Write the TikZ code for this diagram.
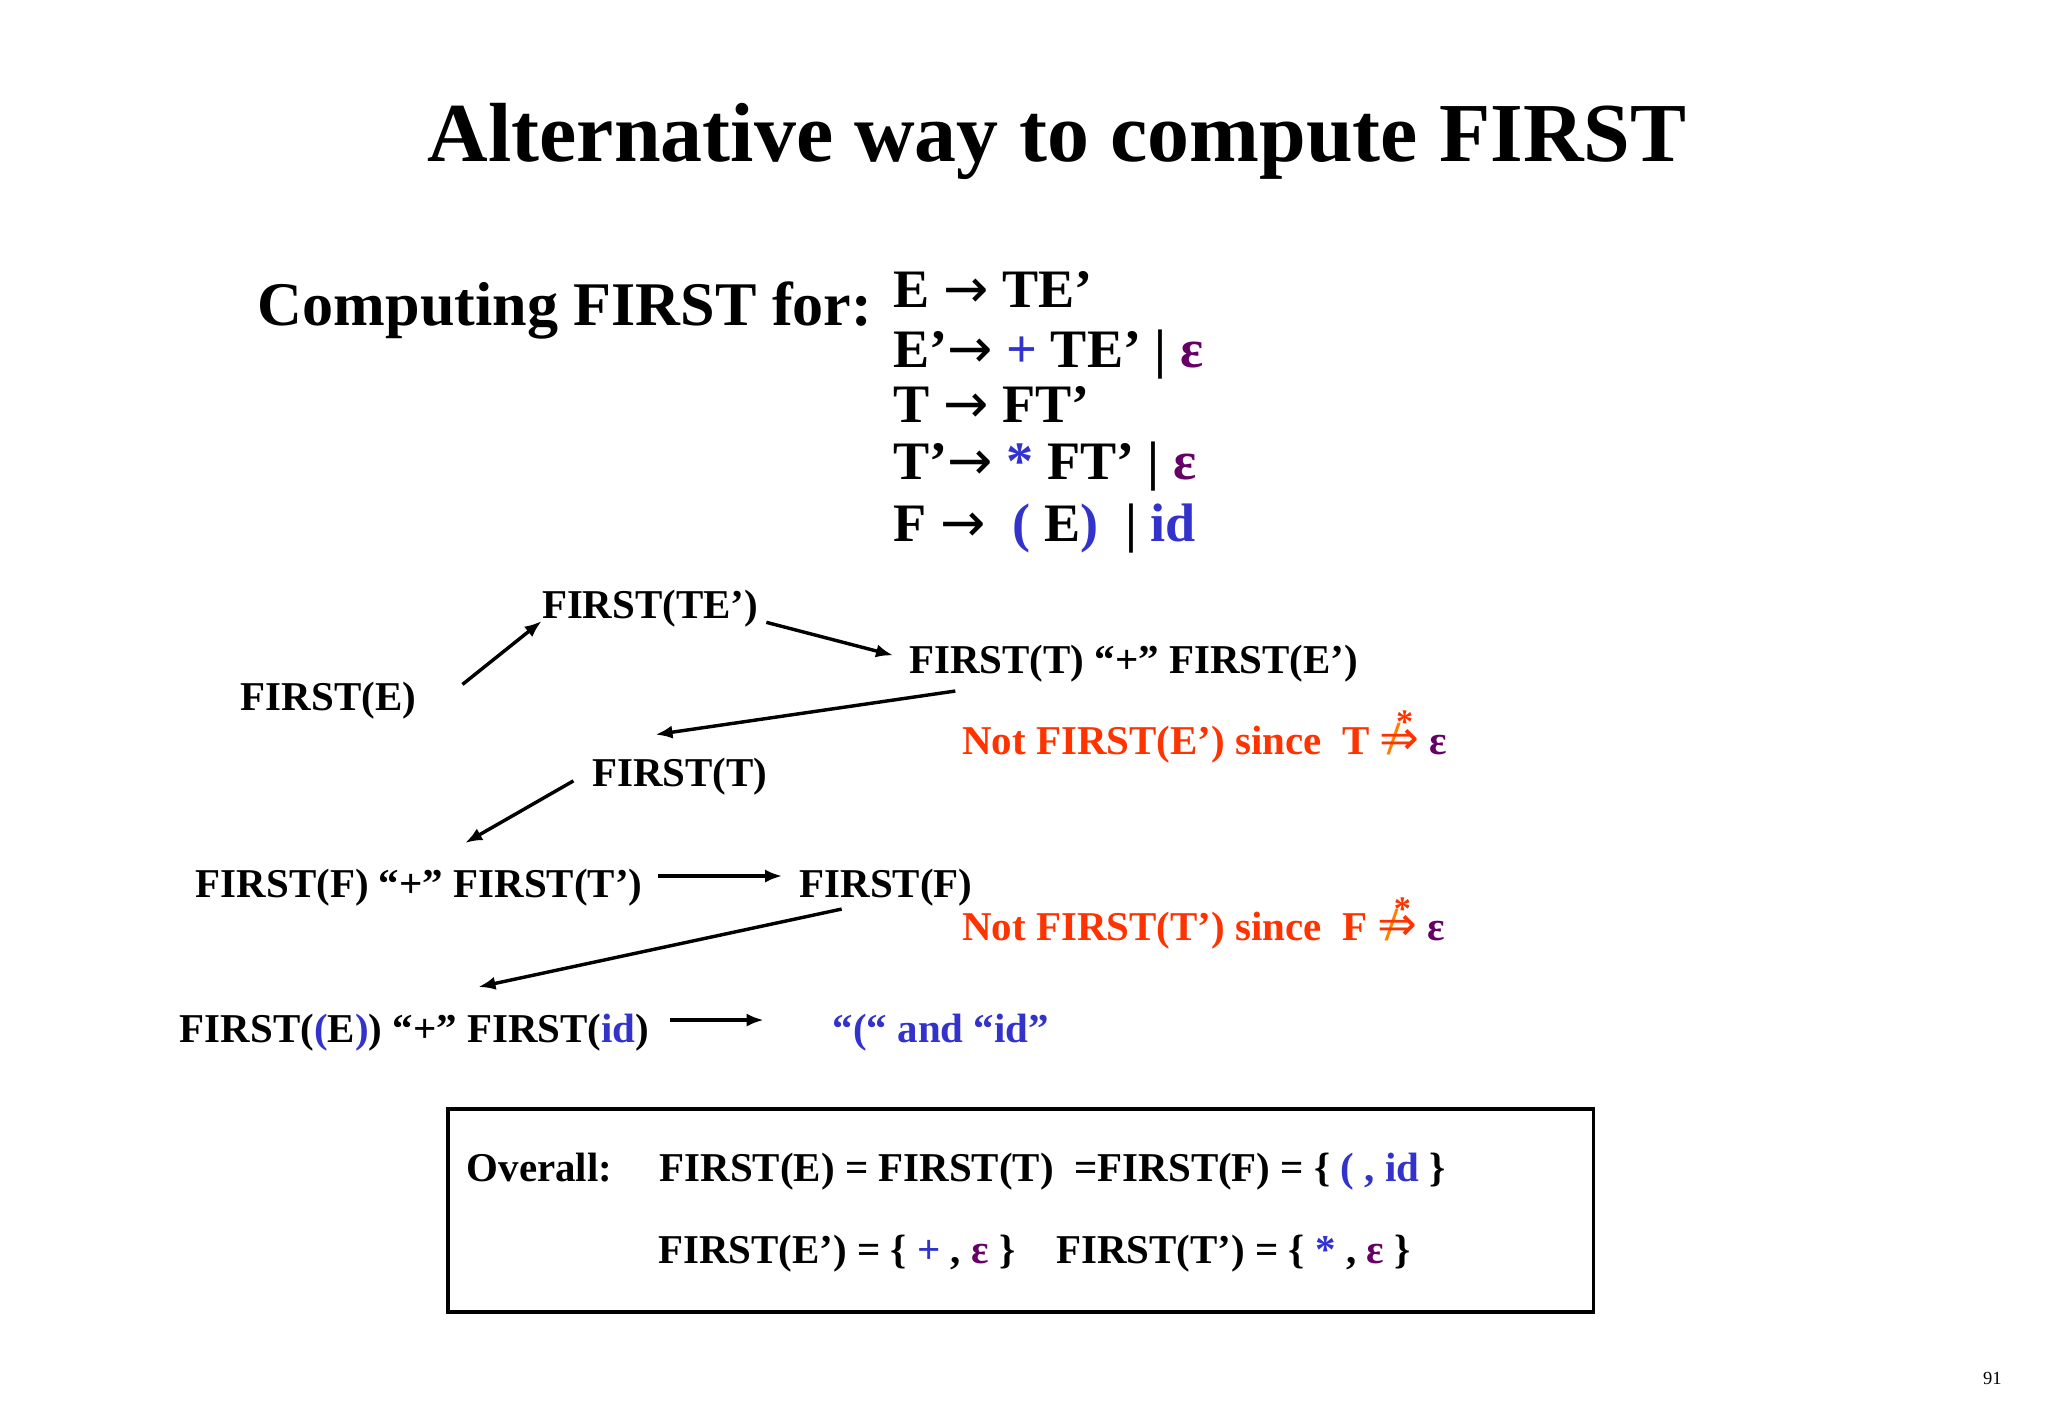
\documentclass[tikz,border=0pt]{standalone}
\usepackage{fontspec}
\setmainfont{Liberation Serif}
\newfontfamily\djf{DejaVu Sans}
\usetikzlibrary{arrows.meta}
\definecolor{ored}{HTML}{FF3300}
\definecolor{tblue}{HTML}{3333CC}
\definecolor{epur}{HTML}{660066}
\newcommand{\eps}{\textcolor{epur}{ε}}
\newcommand{\rar}{{\djf\mdseries →}}
\newcommand{\ndr}{\makebox[0pt][l]{\raisebox{.5em}{\hspace{.4em}\fontsize{26}{26}\selectfont *}}\makebox[0pt][l]{\hspace{.2em}\textcolor{orange}{\fontsize{36}{36}\selectfont /}}{\djf\mdseries\fontsize{36}{36}\selectfont ⇒}}
\begin{document}
\begin{tikzpicture}[x=1pt,y=-1pt,
  t/.style={anchor=base west,inner sep=0pt,font=\bfseries\fontsize{31}{33}\selectfont},
  g/.style={anchor=base west,inner sep=0pt,font=\bfseries\fontsize{41}{44}\selectfont},
  ar/.style={line width=2.6pt,-{Latex[length=13pt,width=10pt]}}]
\useasboundingbox (0,0) rectangle (1550,1073);
\node[anchor=base,inner sep=0pt,font=\bfseries\fontsize{63.5}{66}\selectfont] (title) at (800,122) {Alternative way to compute FIRST};
\node[anchor=base west,inner sep=0pt,font=\bfseries\fontsize{47}{50}\selectfont] (cf) at (195,246) {Computing FIRST for:};
\node[g] (g1) at (676,233) {E \rar\ TE’};
\node[g] (g2) at (676,278) {E’\rar\ \textcolor{tblue}{+} TE’ | \eps};
\node[g] (g3) at (676,320) {T \rar\ FT’};
\node[g] (g4) at (676,363) {T’\rar\ \textcolor{tblue}{*} FT’ | \eps};
\node[g] (g5) at (676,410) {F \rar\ ~\textcolor{tblue}{( }E\textcolor{tblue}{ )} ~| \textcolor{tblue}{id}};
\node[t] (fte) at (410,468) {FIRST(TE’)};
\node[t] (ftpe) at (688,510) {FIRST(T) “+” FIRST(E’)};
\node[t] (fe) at (182,538) {FIRST(E)};
\node[t,text=ored] (n1) at (728,571) {Not FIRST(E’) since~ T \ndr\ \eps};
\node[t] (ft) at (448,595) {FIRST(T)};
\node[t] (ffpt) at (148,679) {FIRST(F) “+” FIRST(T’)};
\node[t] (ff) at (605,679) {FIRST(F)};
\node[t,text=ored] (n2) at (728,712) {Not FIRST(T’) since~ F \ndr\ \eps};
\node[t] (fei) at (136,789) {FIRST(\textcolor{tblue}{(}E\textcolor{tblue}{)}) “+” FIRST(\textcolor{tblue}{id})};
\node[t,text=tblue] (res) at (630,789) {“(“ and “id”};
\draw[line width=3pt] (339,839) rectangle (1206,993);
\node[t] (ov) at (353,894) {Overall:};
\node[t] (l1) at (499,894) {FIRST(E) = FIRST(T) ~=FIRST(F) = \{ \textcolor{tblue}{( , id} \}};
\node[t] (l2) at (498,956) {FIRST(E’) = \{ \textcolor{tblue}{+} , \eps\ \} ~~~FIRST(T’) = \{ \textcolor{tblue}{*} , \eps\ \}};
\node[anchor=base east,inner sep=0pt,font=\fontsize{14}{16}\selectfont] (pg) at (1515,1048) {91};
\coordinate (a1) at (350,518); \coordinate (b1) at (410,470);
\coordinate (a2) at (580,471); \coordinate (b2) at (676,496);
\coordinate (a3) at (723,523); \coordinate (b3) at (496,556);
\coordinate (a4) at (434,591); \coordinate (b4) at (352,638);
\coordinate (a5) at (498,663); \coordinate (b5) at (592,663);
\coordinate (a6) at (637,688); \coordinate (b6) at (362,747);
\coordinate (a7) at (507,772); \coordinate (b7) at (578,772);
\foreach \i in {1,...,7} \draw[ar] (a\i) -- (b\i);
\end{tikzpicture}
\end{document}
